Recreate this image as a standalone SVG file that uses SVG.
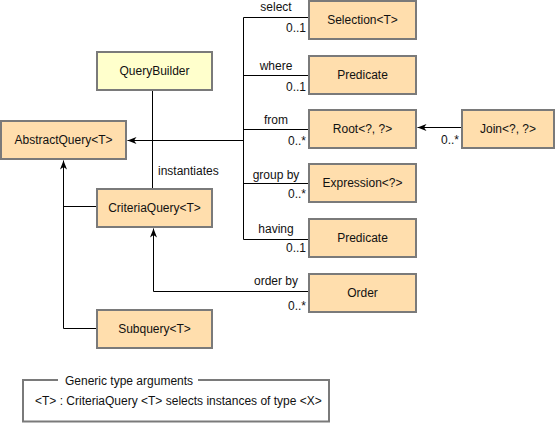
<svg xmlns="http://www.w3.org/2000/svg" width="555" height="423" viewBox="0 0 555 423">
<style>
text{font-family:"Liberation Sans",Arial,sans-serif;font-size:12px;fill:#111}
.box{fill:#FFDEAD;stroke:#7a7a7a;stroke-width:2}
.qb{fill:#FFFFCC;stroke:#7a7a7a;stroke-width:2}
.c{text-anchor:middle}
.e{text-anchor:end}
.ln{fill:none;stroke:#000;stroke-width:1}
.arr{marker-end:url(#ah)}
.leg{fill:none;stroke:#7a7a7a;stroke-width:2}
</style>
<defs>
<marker id="ah" viewBox="-10 -5 11 10" refX="0" refY="0" markerWidth="11" markerHeight="10" orient="auto" markerUnits="userSpaceOnUse">
<path d="M0,0 L-9,-3.5 L-6.5,0 L-9,3.5 z" fill="#000"/>
</marker>
</defs>
<g id="connectors">
<path class="ln" d="M243.5,17.5 V239.5"/>
<path class="ln" d="M243.5,17.5 H309"/>
<path class="ln" d="M243.5,75.5 H309"/>
<path class="ln" d="M243.5,129.5 H309"/>
<path class="ln" d="M243.5,183.5 H309"/>
<path class="ln" d="M243.5,239.5 H309"/>
<path class="ln arr" d="M243.5,140.5 H127.5"/>
<path class="ln arr" d="M462,127.5 H417.5"/>
<path class="ln" d="M152.5,90 V189"/>
<path class="ln arr" d="M63.5,328.5 V160.5"/>
<path class="ln" d="M63.5,206.5 H97"/>
<path class="ln" d="M63.5,328.5 H97"/>
<path class="ln arr" d="M309,291.5 H153.5 V228.5"/>
<text x="276" y="11" class="c">select</text>
<text x="306" y="32" class="e">0..1</text>
<text x="276" y="70" class="c">where</text>
<text x="306" y="91" class="e">0..1</text>
<text x="276" y="124" class="c">from</text>
<text x="306" y="145" class="e">0..*</text>
<text x="276" y="179" class="c">group by</text>
<text x="306" y="198" class="e">0..*</text>
<text x="276" y="233" class="c">having</text>
<text x="306" y="252" class="e">0..1</text>
<text x="276" y="285" class="c">order by</text>
<text x="306" y="310" class="e">0..*</text>
<text x="459" y="144" class="e">0..*</text>
<text x="158" y="175">instantiates</text>
</g>
<g id="QueryBuilder"><rect class="qb" x="97" y="52" width="115" height="38"/><text x="154.5" y="75" class="c">QueryBuilder</text></g>
<g id="AbstractQuery"><rect class="box" x="1" y="121" width="125" height="38"/><text x="63.5" y="144" class="c">AbstractQuery&lt;T&gt;</text></g>
<g id="CriteriaQuery"><rect class="box" x="97" y="189" width="115" height="38"/><text x="154.5" y="212" class="c">CriteriaQuery&lt;T&gt;</text></g>
<g id="Subquery"><rect class="box" x="97" y="310" width="115" height="38"/><text x="154.5" y="333" class="c">Subquery&lt;T&gt;</text></g>
<g id="Selection"><rect class="box" x="309" y="1" width="107" height="38"/><text x="362.5" y="24" class="c">Selection&lt;T&gt;</text></g>
<g id="Predicate1"><rect class="box" x="309" y="56" width="107" height="38"/><text x="362.5" y="79" class="c">Predicate</text></g>
<g id="Root"><rect class="box" x="309" y="110" width="107" height="38"/><text x="362.5" y="133" class="c">Root&lt;?, ?&gt;</text></g>
<g id="Expression"><rect class="box" x="309" y="164" width="107" height="38"/><text x="362.5" y="187" class="c">Expression&lt;?&gt;</text></g>
<g id="Predicate2"><rect class="box" x="309" y="219" width="107" height="38"/><text x="362.5" y="242" class="c">Predicate</text></g>
<g id="Order"><rect class="box" x="309" y="274" width="107" height="38"/><text x="362.5" y="297" class="c">Order</text></g>
<g id="Join"><rect class="box" x="462" y="110" width="92" height="38"/><text x="508" y="133" class="c">Join&lt;?, ?&gt;</text></g>
<g id="legend">
<path class="leg" d="M58,380 H23 V421.5 H329 V380 H198"/>
<text x="65" y="385">Generic type arguments</text>
<text x="35" y="405">&lt;T&gt; : CriteriaQuery &lt;T&gt; selects instances of type &lt;X&gt;</text>
</g>
</svg>
